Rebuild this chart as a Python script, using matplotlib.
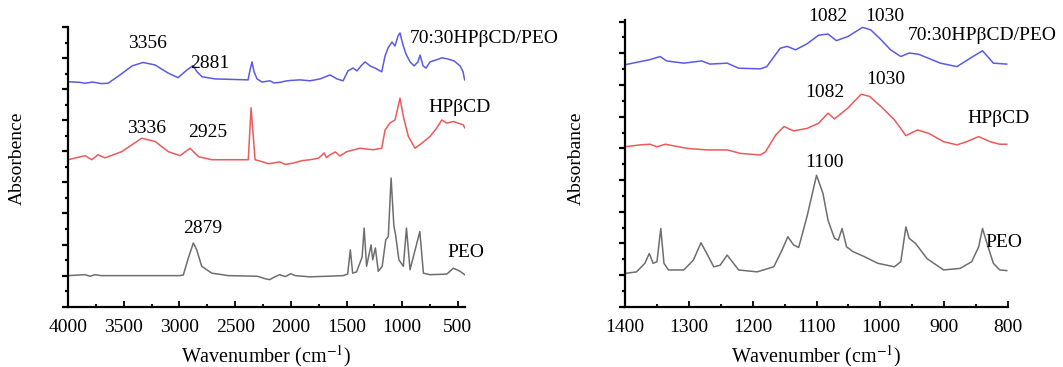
import matplotlib
matplotlib.use('Agg')
import matplotlib.pyplot as plt
from matplotlib.ticker import MultipleLocator

plt.rcParams['font.family'] = ['Liberation Serif', 'DejaVu Serif']
plt.rcParams['mathtext.fontset'] = 'stix'

# ---- left panel: full range spectra (wavenumber, absorbance)
full_blend_wn = [4000, 3892, 3850, 3780, 3700, 3641, 3533, 3425, 3327, 3219, 3102, 3013,
                 2932, 2878, 2842, 2797, 2680, 2384, 2366, 2348, 2330, 2303, 2259, 2187,
                 2150, 2097, 2050, 2007, 1917, 1828, 1738, 1648, 1585, 1531, 1487, 1442,
                 1406, 1370, 1334, 1289, 1244, 1184, 1154, 1127, 1092, 1065, 1038, 1020,
                 993, 966, 930, 894, 858, 840, 813, 786, 750, 697, 643, 589, 535, 481,
                 454, 440]
full_blend_abs = [7.24, 7.22, 7.19, 7.23, 7.18, 7.19, 7.46, 7.75, 7.86, 7.78, 7.52, 7.37,
                  7.62, 7.76, 7.56, 7.40, 7.33, 7.30, 7.62, 7.88, 7.56, 7.33, 7.23, 7.27,
                  7.20, 7.22, 7.26, 7.28, 7.30, 7.27, 7.33, 7.46, 7.33, 7.27, 7.59, 7.68,
                  7.59, 7.75, 7.88, 7.75, 7.68, 7.56, 8.07, 8.33, 8.52, 8.39, 8.71, 8.81,
                  8.42, 8.13, 7.88, 7.75, 7.88, 8.10, 7.75, 7.68, 7.88, 7.94, 8.01, 7.97,
                  7.91, 7.75, 7.56, 7.30]

full_hpbcd_wn = [4000, 3847, 3787, 3731, 3668, 3518, 3339, 3219, 3100, 2995, 2905, 2830,
                 2710, 2382, 2357, 2321, 2261, 2200, 2100, 2050, 1980, 1900, 1828, 1750,
                 1700, 1680, 1648, 1600, 1560, 1498, 1379, 1262, 1184, 1154, 1110, 1065,
                 1020, 990, 945, 885, 825, 750, 690, 645, 600, 541, 451, 440]
full_hpbcd_abs = [4.73, 4.86, 4.73, 4.89, 4.79, 4.99, 5.42, 5.32, 4.99, 4.86, 5.10, 4.83,
                  4.73, 4.73, 6.40, 4.73, 4.67, 4.60, 4.66, 4.58, 4.62, 4.70, 4.73, 4.78,
                  4.95, 4.80, 4.89, 4.98, 4.85, 4.99, 5.10, 5.05, 5.10, 5.69, 5.91, 6.01,
                  6.71, 6.12, 5.48, 5.10, 5.26, 5.48, 5.75, 6.01, 5.91, 5.96, 5.85, 5.76]

full_peo_wn = [4000, 3850, 3800, 3760, 3700, 3000, 2965, 2920, 2875, 2845, 2800, 2710,
               2560, 2300, 2230, 2190, 2150, 2100, 2050, 2000, 1960, 1828, 1531, 1490,
               1466, 1445, 1410, 1360, 1342, 1320, 1280, 1265, 1241, 1215, 1180, 1148,
               1125, 1100, 1075, 1060, 1030, 990, 962, 930, 842, 810, 750, 600, 541,
               481, 440]
full_peo_abs = [1.00, 1.03, 0.98, 1.03, 1.00, 1.00, 1.02, 1.57, 2.05, 1.83, 1.30, 1.08,
                1.00, 0.98, 0.90, 0.87, 0.95, 1.03, 0.97, 1.06, 1.00, 0.96, 1.00, 1.05,
                1.83, 1.08, 1.12, 1.60, 2.53, 1.30, 1.99, 1.51, 1.89, 1.14, 1.30, 2.15,
                2.26, 4.14, 2.60, 2.32, 1.51, 1.30, 2.53, 1.19, 2.42, 1.08, 1.03, 1.05,
                1.24, 1.14, 1.03]

# ---- right panel: 1400-800 zoom
zoom_blend_wn = [1400, 1376, 1361, 1345, 1335, 1308, 1280, 1267, 1240, 1222, 1188, 1178,
                 1157, 1146, 1133, 1115, 1097, 1082, 1069, 1051, 1028, 1015, 999, 984,
                 968, 955, 940, 906, 880, 859, 840, 823, 802]
zoom_blend_abs = [7.64, 7.74, 7.80, 7.90, 7.76, 7.69, 7.76, 7.66, 7.69, 7.53, 7.51, 7.58,
                  8.16, 8.22, 8.11, 8.30, 8.57, 8.61, 8.40, 8.53, 8.82, 8.74, 8.43, 8.11,
                  7.90, 8.01, 7.97, 7.69, 7.58, 7.85, 8.08, 7.69, 7.66]

zoom_hpbcd_wn = [1400, 1376, 1361, 1350, 1337, 1324, 1303, 1272, 1240, 1219, 1188, 1180,
                 1164, 1151, 1136, 1115, 1097, 1082, 1072, 1051, 1030, 1017, 999, 978,
                 960, 942, 924, 901, 880, 865, 846, 828, 813, 802]
zoom_hpbcd_abs = [5.05, 5.11, 5.13, 5.05, 5.13, 5.08, 5.00, 4.95, 4.95, 4.84, 4.79, 4.89,
                  5.42, 5.69, 5.55, 5.63, 5.79, 6.11, 5.93, 6.27, 6.71, 6.64, 6.32, 5.90,
                  5.40, 5.58, 5.47, 5.21, 5.11, 5.21, 5.37, 5.21, 5.13, 5.13]

zoom_peo_wn = [1400, 1382, 1369, 1362, 1356, 1350, 1344, 1339, 1332, 1308, 1293, 1281,
               1272, 1261, 1251, 1240, 1232, 1222, 1193, 1167, 1154, 1145, 1136, 1128,
               1115, 1100, 1090, 1082, 1072, 1066, 1060, 1053, 1043, 1025, 1004, 978,
               968, 960, 955, 945, 927, 901, 875, 857, 846, 840, 833, 823, 813, 802]
zoom_peo_abs = [1.05, 1.10, 1.37, 1.68, 1.37, 1.42, 2.47, 1.37, 1.16, 1.16, 1.47, 2.02,
                1.68, 1.26, 1.31, 1.63, 1.42, 1.16, 1.10, 1.26, 1.79, 2.21, 1.95, 1.87,
                2.84, 4.15, 3.58, 2.73, 2.16, 2.10, 2.47, 1.89, 1.74, 1.58, 1.37, 1.26,
                1.42, 2.52, 2.16, 2.00, 1.52, 1.16, 1.21, 1.42, 1.89, 2.47, 2.00, 1.37,
                1.16, 1.14]

c_blend = '#5a5ae6'
c_hpbcd = '#ec5a5a'
c_peo = '#6e6e6e'

fig = plt.figure(figsize=(10.63, 3.67), dpi=100)
ax1 = fig.add_axes([0.064, 0.1643, 0.3735, 0.762])
ax2 = fig.add_axes([0.588, 0.1643, 0.3603, 0.781])


def style_axes(ax):
    for side in ['top', 'right']:
        ax.spines[side].set_visible(False)
    for side in ['left', 'bottom']:
        ax.spines[side].set_linewidth(1.6)
    ax.tick_params(axis='x', which='both', direction='in', width=1.3, labelsize=14, pad=9)
    ax.tick_params(axis='x', which='major', length=4)
    ax.tick_params(axis='x', which='minor', length=2.5)
    ax.tick_params(axis='y', which='both', direction='out', width=1.6, labelleft=False)
    ax.tick_params(axis='y', which='major', length=4)
    ax.tick_params(axis='y', which='minor', length=2.5)
    ax.yaxis.set_major_locator(MultipleLocator(1))
    ax.yaxis.set_minor_locator(MultipleLocator(0.5))
    ax.set_xlabel('Wavenumber (cm$^{-1}$)', fontsize=14.5, labelpad=5)


# left panel
ax1.plot(full_blend_wn, full_blend_abs, color=c_blend, lw=1.1)
ax1.plot(full_hpbcd_wn, full_hpbcd_abs, color=c_hpbcd, lw=1.1)
ax1.plot(full_peo_wn, full_peo_abs, color=c_peo, lw=1.1)
ax1.set_xlim(4000, 436)
ax1.set_ylim(0, 9)
ax1.xaxis.set_major_locator(MultipleLocator(500))
ax1.xaxis.set_minor_locator(MultipleLocator(250))
style_axes(ax1)
ax1.set_ylabel('Absorbence', fontsize=14)
ax1.yaxis.set_label_coords(-0.106, 0.532)

fs = 14
ax1.text(3291, 8.48, '3356', fontsize=fs, ha='center', va='center')
ax1.text(2725, 7.84, '2881', fontsize=fs, ha='center', va='center')
ax1.text(930, 8.64, '70:30HPβCD/PEO', fontsize=fs, ha='left', va='center')
ax1.text(3291, 5.75, '3336', fontsize=fs, ha='center', va='center')
ax1.text(2743, 5.62, '2925', fontsize=fs, ha='center', va='center')
ax1.text(768, 6.42, 'HPβCD', fontsize=fs, ha='left', va='center')
ax1.text(2788, 2.53, '2879', fontsize=fs, ha='center', va='center')
ax1.text(598, 1.73, 'PEO', fontsize=fs, ha='left', va='center')

# right panel
ax2.plot(zoom_blend_wn, zoom_blend_abs, color=c_blend, lw=1.1)
ax2.plot(zoom_hpbcd_wn, zoom_hpbcd_abs, color=c_hpbcd, lw=1.1)
ax2.plot(zoom_peo_wn, zoom_peo_abs, color=c_peo, lw=1.1)
ax2.set_xlim(1400, 800)
ax2.set_ylim(0, 9.05)
ax2.xaxis.set_major_locator(MultipleLocator(100))
ax2.xaxis.set_minor_locator(MultipleLocator(50))
style_axes(ax2)
ax2.set_ylabel('Absorbance', fontsize=14)
ax2.yaxis.set_label_coords(-0.104, 0.519)

ax2.text(1083, 9.17, '1082', fontsize=fs, ha='center', va='center')
ax2.text(993, 9.17, '1030', fontsize=fs, ha='center', va='center')
ax2.text(957, 8.55, '70:30HPβCD/PEO', fontsize=fs, ha='left', va='center')
ax2.text(1087, 6.76, '1082', fontsize=fs, ha='center', va='center')
ax2.text(991, 7.17, '1030', fontsize=fs, ha='center', va='center')
ax2.text(864, 5.94, 'HPβCD', fontsize=fs, ha='left', va='center')
ax2.text(1087, 4.55, '1100', fontsize=fs, ha='center', va='center')
ax2.text(836, 2.02, 'PEO', fontsize=fs, ha='left', va='center')

fig.savefig('out.png', dpi=100)
